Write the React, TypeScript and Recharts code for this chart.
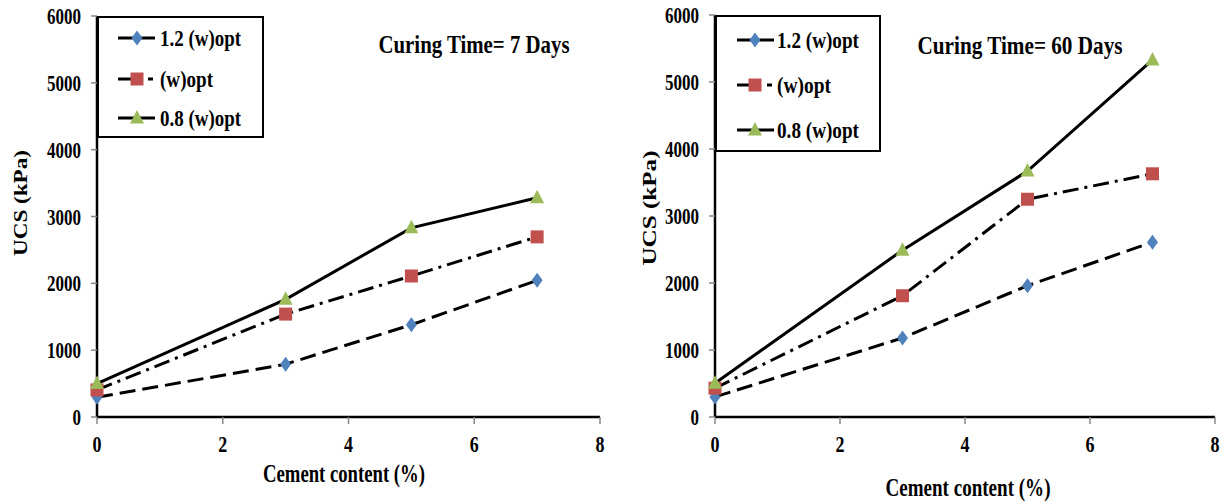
import React from "react";
import { Legend, Line, LineChart, XAxis, YAxis } from "recharts";

const cementContent = [0, 3, 5, 7];
const xTicks = [0, 2, 4, 6, 8];
const yTicks = [0, 1000, 2000, 3000, 4000, 5000, 6000];
const seriesNames = ["1.2 (w)opt", "(w)opt", "0.8 (w)opt"];

// curing time 7 days
const wet7 = [295, 790, 1380, 2045];
const opt7 = [405, 1540, 2110, 2695];
const dry7 = [500, 1760, 2830, 3280];

// curing time 60 days
const wet60 = [300, 1180, 1960, 2610];
const opt60 = [430, 1810, 3250, 3630];
const dry60 = [505, 2490, 3670, 5330];

const FONT = "'Liberation Serif', 'Times New Roman', serif";

const styles = [
    { key: "wet", color: "#4F81BD", dash: "16 7", legendDash: undefined, shape: "diamond" },
    { key: "opt", color: "#C0504D", dash: "16 6 3 6", legendDash: "14 16 5 100", shape: "square" },
    { key: "dry", color: "#9BBB59", dash: undefined, legendDash: undefined, shape: "triangle" },
];

const Marker = ({ cx, cy, shape, color }: any) => {
    if (cx == null || cy == null) return null;
    if (shape === "diamond") {
        return <path d={`M${cx},${cy - 7.5}L${cx + 5.5},${cy}L${cx},${cy + 7.5}L${cx - 5.5},${cy}Z`} fill={color} />;
    }
    if (shape === "square") {
        return <rect x={cx - 6.5} y={cy - 6.5} width={13} height={13} fill={color} />;
    }
    return <path d={`M${cx},${cy - 8}L${cx + 7},${cy + 5.5}L${cx - 7},${cy + 5.5}Z`} fill={color} />;
};

const BoldText = ({ x, y, size, len, anchor = "middle", transform, children }: any) => (
    <text
        x={x}
        y={y}
        fontFamily={FONT}
        fontWeight="bold"
        fontSize={size}
        textAnchor={anchor}
        textLength={len}
        lengthAdjust="spacingAndGlyphs"
        transform={transform}
        fill="#000"
    >
        {children}
    </text>
);

const YTick = ({ x, y, payload }: any) => (
    <BoldText x={x} y={y + 8} size={23} anchor="end" len={String(payload.value).length * 8.5}>
        {payload.value}
    </BoldText>
);

const XTick = ({ x, y, payload }: any) => (
    <BoldText x={x} y={y + 26} size={24} len={9}>
        {payload.value}
    </BoldText>
);

const LegendBox = ({ w, h, rows, lineX, markX, textX, widths }: any) => (
    <svg width={w} height={h} style={{ display: "block" }}>
        <rect x={1} y={1} width={w - 2} height={h - 2} fill="#fff" stroke="#000" strokeWidth={2} />
        {styles.map((s, i) => (
            <g key={s.key}>
                <line
                    x1={lineX[0]}
                    x2={lineX[1]}
                    y1={rows[i]}
                    y2={rows[i]}
                    stroke="#000"
                    strokeWidth={3}
                    strokeDasharray={s.legendDash}
                />
                <Marker cx={markX} cy={rows[i]} shape={s.shape} color={s.color} />
                <BoldText x={textX} y={rows[i] + 8} size={23} anchor="start" len={widths[i]}>
                    {seriesNames[i]}
                </BoldText>
            </g>
        ))}
    </svg>
);

const Panel = ({ wet, opt, dry, title, layout }: any) => {
    const data = cementContent.map((c, i) => ({ cement: c, wet: wet[i], opt: opt[i], dry: dry[i] }));
    return (
        <LineChart
            width={616}
            height={502}
            data={data}
            margin={{ top: layout.top, right: layout.right, bottom: 0, left: 0 }}
        >
            <XAxis
                dataKey="cement"
                type="number"
                domain={[0, 8]}
                ticks={xTicks}
                height={502 - 417}
                tickSize={7}
                tickMargin={2}
                tick={<XTick />}
                tickLine={{ stroke: "#888", strokeWidth: 1.5 }}
                axisLine={{ stroke: "#000", strokeWidth: 2.5 }}
            />
            <XAxis
                xAxisId="top"
                orientation="top"
                dataKey="cement"
                type="number"
                domain={[0, 8]}
                height={0}
                tick={false}
                tickLine={false}
                axisLine={{ stroke: "#000", strokeWidth: 2.5 }}
            />
            <YAxis
                domain={[0, 6000]}
                ticks={yTicks}
                width={layout.yWidth}
                tickSize={6}
                tickMargin={10}
                tick={<YTick />}
                tickLine={{ stroke: "#888", strokeWidth: 1.5 }}
                axisLine={{ stroke: "#000", strokeWidth: 2.5 }}
            />
            <YAxis
                yAxisId="right"
                orientation="right"
                domain={[0, 6000]}
                width={0}
                tick={false}
                tickLine={false}
                axisLine={{ stroke: "#000", strokeWidth: 2.5 }}
            />
            {styles.map((s) => (
                <Line
                    key={s.key}
                    dataKey={s.key}
                    type="linear"
                    stroke="#000"
                    strokeWidth={3}
                    strokeDasharray={s.dash}
                    isAnimationActive={false}
                    dot={(p: any) => <Marker key={`${s.key}-${p.index}`} cx={p.cx} cy={p.cy} shape={s.shape} color={s.color} />}
                    activeDot={false}
                    legendType="none"
                />
            ))}
            <Legend
                layout="horizontal"
                verticalAlign="middle"
                align="center"
                wrapperStyle={{ left: layout.yWidth, top: layout.top, width: layout.legend.w, height: layout.legend.h }}
                content={() => <LegendBox {...layout.legend} />}
            />
            <BoldText x={layout.title.x} y={layout.title.y} size={26} len={layout.title.len}>
                {title}
            </BoldText>
            <BoldText x={layout.xLabel.x} y={layout.xLabel.y} size={25} len={layout.xLabel.len}>
                Cement content (%)
            </BoldText>
            <BoldText
                x={layout.yLabel.x}
                y={layout.yLabel.y}
                size={19}
                len={layout.yLabel.len}
                transform={`rotate(-90 ${layout.yLabel.x} ${layout.yLabel.y})`}
            >
                UCS (kPa)
            </BoldText>
        </LineChart>
    );
};

const leftLayout = {
    top: 16,
    right: 16,
    yWidth: 97,
    legend: { w: 167, h: 122, rows: [22, 63, 102], lineX: [21, 58], markX: 40, textX: 63, widths: [81, 53, 81] },
    title: { x: 474, y: 53, len: 191 },
    xLabel: { x: 344, y: 482, len: 162 },
    yLabel: { x: 27, y: 203, len: 106 },
};

const rightLayout = {
    top: 15,
    right: 17,
    yWidth: 99,
    legend: { w: 166, h: 137, rows: [25, 70, 115], lineX: [22, 59], markX: 40, textX: 62, widths: [82, 54, 82] },
    title: { x: 404, y: 54, len: 205 },
    xLabel: { x: 352, y: 496, len: 165 },
    yLabel: { x: 40, y: 208, len: 115 },
};

const App = () => (
    <div style={{ position: "absolute", left: 0, top: 0, width: 1232, height: 502, background: "#fff" }}>
        <div style={{ position: "absolute", left: 0, top: 0 }}>
            <Panel wet={wet7} opt={opt7} dry={dry7} title="Curing Time= 7 Days" layout={leftLayout} />
        </div>
        <div style={{ position: "absolute", left: 616, top: 0 }}>
            <Panel wet={wet60} opt={opt60} dry={dry60} title="Curing Time= 60 Days" layout={rightLayout} />
        </div>
    </div>
);

export default App;
